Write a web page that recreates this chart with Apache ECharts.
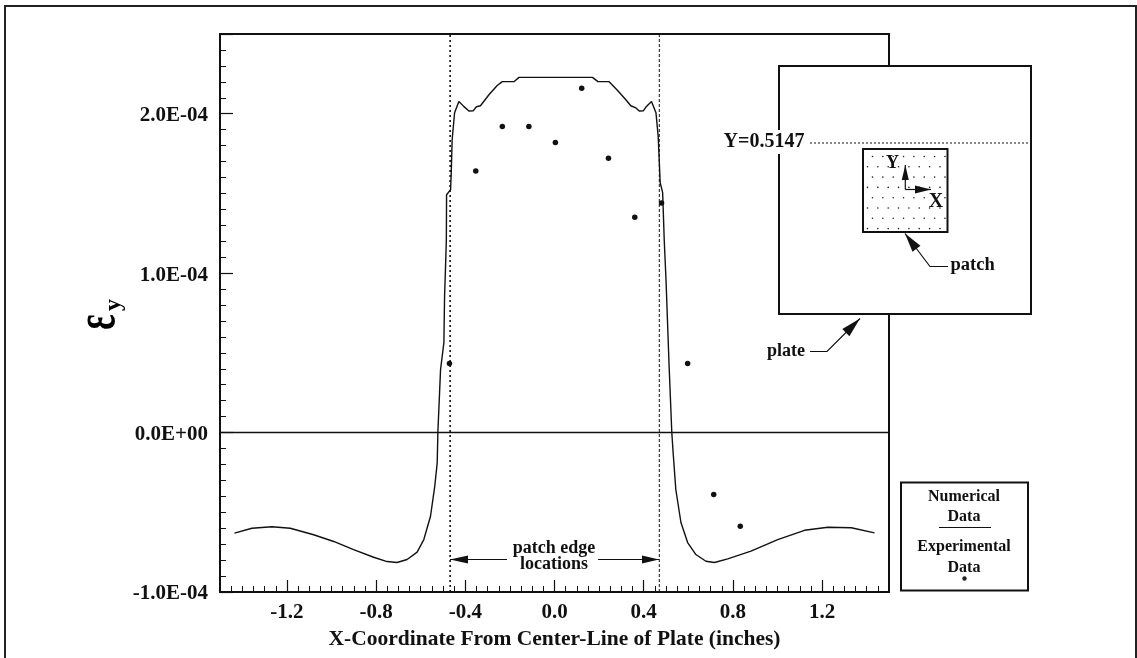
<!DOCTYPE html>
<html>
<head>
<meta charset="utf-8">
<style>html,body{margin:0;padding:0;background:#fff}#c{width:1137px;height:658px}</style>
<script src="https://cdn.jsdelivr.net/npm/echarts@6/dist/echarts.min.js"></script>
</head>
<body>
<div id="c"></div>
<script>
// Values are strain in units of 1E-04
const curveX = [-1.435,-1.357,-1.267,-1.185,-1.080,-0.990,-0.901,-0.811,-0.751,-0.706,-0.661,-0.616,-0.586,-0.556,-0.537,-0.526,-0.523,-0.511,-0.496,-0.493,-0.489,-0.485,-0.484,-0.466,-0.463,-0.459,-0.448,-0.429,-0.407,-0.384,-0.364,-0.350,-0.332,-0.294,-0.257,-0.234,-0.182,-0.159,0.170,0.195,0.245,0.283,0.320,0.342,0.365,0.380,0.399,0.410,0.435,0.455,0.465,0.474,0.485,0.492,0.500,0.514,0.526,0.532,0.544,0.567,0.597,0.634,0.679,0.717,0.777,0.881,1.001,1.121,1.226,1.331,1.435];
const curveY = [-0.631,-0.600,-0.591,-0.600,-0.641,-0.683,-0.734,-0.782,-0.809,-0.815,-0.796,-0.750,-0.671,-0.525,-0.337,-0.190,0,0.395,0.564,0.853,1.022,1.210,1.492,1.524,1.630,1.837,2.006,2.077,2.046,2.017,2.019,2.044,2.050,2.119,2.177,2.201,2.201,2.228,2.228,2.201,2.201,2.146,2.088,2.050,2.036,2.017,2.019,2.042,2.077,2.006,1.858,1.567,1.505,1.210,0.959,0.416,0,-0.127,-0.357,-0.564,-0.690,-0.765,-0.807,-0.815,-0.792,-0.744,-0.671,-0.613,-0.594,-0.597,-0.629];
const expX = [-0.471,-0.353,-0.234,-0.115,0.004,0.122,0.242,0.360,0.480,0.597,0.714,0.833];
const expY = [0.433,1.641,1.920,1.920,1.820,2.159,1.720,1.350,1.440,0.433,-0.389,-0.587];
const xTickValues = [-1.2,-0.8,-0.4,0,0.4,0.8,1.2];
const yTickLabels = {'-1':'-1.0E-04','0':'0.0E+00','1':'1.0E-04','2':'2.0E-04'};
const patchEdges = [-0.468,0.47];
const xRange = [-1.5,1.5];
const yRange = [-1,2.5];

const FONT = '"Liberation Serif", "Times New Roman", serif';
const pairs = (a,b)=>a.map((v,i)=>[v,b[i]]);

function text(str,x,y,size,opt){
  return {type:'text',x:x,y:y,silent:true,z:20,
    style:Object.assign({text:str,font:'bold '+size+'px '+FONT,fill:'#111',align:'center',verticalAlign:'middle'},opt||{})};
}
function line(pts,w,dash){
  return {type:'polyline',silent:true,z:20,shape:{points:pts},style:{stroke:'#111',lineWidth:w||1.2,fill:null,lineDash:dash||null}};
}
function rect(x,y,w,h,lw){
  return {type:'rect',silent:true,z:15,shape:{x:x,y:y,width:w,height:h},style:{fill:'#fff',stroke:'#111',lineWidth:lw||2}};
}
function arrow(pts,len,half){
  const n=pts.length,t=pts[n-1],p=pts[n-2];
  const d=Math.hypot(t[0]-p[0],t[1]-p[1]),ux=(t[0]-p[0])/d,uy=(t[1]-p[1])/d;
  const bx=t[0]-ux*len,by=t[1]-uy*len;
  return [line(pts,1.2),{type:'polygon',silent:true,z:21,shape:{points:[t,[bx-uy*half,by+ux*half],[bx+uy*half,by-ux*half]]},style:{fill:'#111'}}];
}
function dot(x,y,r){return {type:'circle',silent:true,z:18,shape:{cx:x,cy:y,r:r},style:{fill:'#222'}};}

const g=[];
// outer frame
g.push({type:'polyline',silent:true,z:5,shape:{points:[[5,658],[5,6],[1136,6],[1136,658]]},style:{stroke:'#222',lineWidth:2,fill:null}});
// y title
g.push({type:'text',silent:true,z:20,x:99,y:322,rotation:Math.PI/2,scaleX:0.62,scaleY:1.0,style:{text:'ε',font:'bold 58px '+FONT,fill:'#000',align:'center',verticalAlign:'middle'}});
g.push({type:'text',silent:true,z:20,x:114,y:305,rotation:Math.PI/2,style:{text:'y',font:'bold 24px '+FONT,fill:'#000',align:'center',verticalAlign:'middle'}});
// patch edge annotation
g.push(text('patch edge',554,548,18),text('locations',554,564,18));
g.push(...arrow([[507,559.5],[450,559.5]],18,4),...arrow([[598,559.5],[659,559.5]],17,4));
// inset
g.push(rect(779,66,252,248,2));
g.push(line([[810,143],[1031,143]],1,[2,2]));
g.push(text('Y=0.5147',764,142,20,{backgroundColor:'#fff',padding:[2,3,2,3]}));
g.push(rect(863,149,84.5,83,2));
for(let r=0;r<8;r++){
  const y=156.5+r*10.3;
  const x0=(r%2===0)?872.5:867.5;
  for(let c=0;c<8;c++){const x=x0+c*10.35; if(x<946) g.push(dot(x,y,0.8));}
}
g.push(...arrow([[905.3,189.5],[905.3,165]],15,3.5));
g.push(...arrow([[905.3,189.5],[931,189.5]],16,4));
g.push(text('Y',892.5,163,18));
g.push(text('X',936,202,20));
g.push(...arrow([[948,266.5],[930,266.5],[905,233.5]],19,5));
g.push(text('patch',950.5,265,18.5,{align:'left'}));
g.push(...arrow([[810,351.5],[827,351.5],[860,318.5]],20,5));
g.push(text('plate',786,351,18));
// legend box
g.push(rect(901,482.5,127,108,2));
g.push(text('Numerical',964,497,16),text('Data',964,516.5,16));
g.push(line([[939,527.5],[991,527.5]],1.2));
g.push(text('Experimental',964,546.5,16),text('Data',964,567.5,16));
g.push(dot(964.5,578.5,2.2));

const common={type:'value',min:xRange[0],max:xRange[1],position:'bottom'};
const labelFont={fontFamily:'Liberation Serif',fontWeight:'bold',fontSize:21,color:'#111'};
const option={
  animation:false,
  backgroundColor:'#fff',
  grid:{left:220,right:248,top:34,bottom:66,outerBoundsMode:'none',containLabel:false,show:true,borderColor:'#111',borderWidth:2,backgroundColor:'transparent'},
  xAxis:[
    Object.assign({},common,{
      name:'X-Coordinate From Center-Line of Plate (inches)',nameLocation:'middle',nameGap:36,
      nameTextStyle:{fontFamily:'Liberation Serif',fontWeight:'bold',fontSize:21.5,color:'#111'},
      axisLine:{onZero:false,lineStyle:{color:'#111',width:2}},
      splitLine:{show:false},
      axisTick:{show:true,inside:true,length:12,lineStyle:{color:'#111',width:1.2},customValues:xTickValues},
      axisLabel:Object.assign({show:true,margin:10,customValues:xTickValues,formatter:v=>Number(v).toFixed(1)},labelFont)
    }),
    Object.assign({},common,{
      interval:0.05,
      axisLine:{show:false,onZero:false},splitLine:{show:false},axisLabel:{show:false},
      axisTick:{show:true,inside:true,length:6,lineStyle:{color:'#111',width:1}}
    })
  ],
  yAxis:[
    {type:'value',min:yRange[0],max:yRange[1],interval:1,
      axisLine:{show:true,onZero:false,lineStyle:{color:'#111',width:2}},
      splitLine:{show:false},
      axisTick:{show:true,inside:true,length:13,lineStyle:{color:'#111',width:1.2}},
      minorTick:{show:true,splitNumber:10,length:6,lineStyle:{color:'#111',width:1}},
      minorSplitLine:{show:false},
      axisLabel:Object.assign({margin:12,
        formatter:v=>yTickLabels[String(v)]?'{a|'+yTickLabels[String(v)]+'}':'',
        rich:{a:Object.assign({padding:[4,0,0,0]},labelFont)}},labelFont)
    }
  ],
  series:[
    {name:'Zero',type:'line',data:[[xRange[0],0],[xRange[1],0]],showSymbol:false,silent:true,lineStyle:{color:'#111',width:1.6},z:1},
    {name:'Patch edge L',type:'line',data:[[patchEdges[0],yRange[0]],[patchEdges[0],yRange[1]]],showSymbol:false,silent:true,lineStyle:{color:'#111',width:1.6,type:[2,3]},z:1},
    {name:'Patch edge R',type:'line',data:[[patchEdges[1],yRange[0]],[patchEdges[1],yRange[1]]],showSymbol:false,silent:true,lineStyle:{color:'#111',width:1,type:[3,2]},z:1},
    {name:'Numerical Data',type:'line',data:pairs(curveX,curveY),showSymbol:false,smooth:false,silent:true,lineStyle:{color:'#111',width:1.4},z:3},
    {name:'Experimental Data',type:'scatter',data:pairs(expX,expY),symbol:'circle',symbolSize:5.5,silent:true,itemStyle:{color:'#111',opacity:1},z:4}
  ],
  graphic:{elements:g}
};
const chart=echarts.init(document.getElementById('c'),null,{renderer:'canvas',width:1137,height:658});
chart.setOption(option);
</script>
</body>
</html>
